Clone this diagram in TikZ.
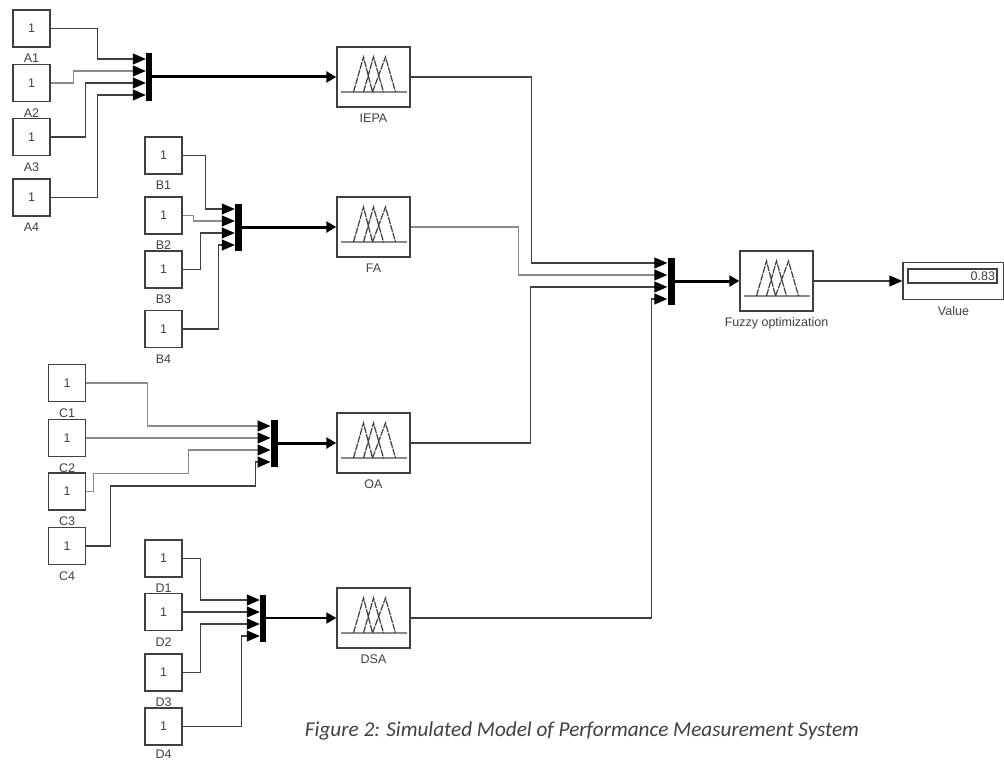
\documentclass[tikz,border=0pt]{standalone}
\usepackage{fontspec}
\setmainfont{Liberation Sans}
\newfontfamily\captionfont{Carlito}
\usetikzlibrary{positioning, arrows.meta}
\definecolor{linegray}{HTML}{404040}
\definecolor{softgray}{HTML}{8A8A8A}
\tikzset{
  srcblock/.style={draw=linegray, line width=1.4pt, minimum width=37pt, minimum height=37pt, inner sep=0pt, font=\fontsize{12.5}{12.5}\selectfont, text=linegray},
  blocklabel/.style={inner sep=0pt, below=6pt of #1, font=\fontsize{12.5}{12.5}\selectfont, text=linegray},
  muxbar/.style={fill=black, minimum width=6pt, minimum height=47pt, inner sep=0pt},
  fisblock/.style={draw=linegray, line width=1.4pt, minimum width=73pt, minimum height=60pt, inner sep=0pt,
    path picture={\begin{scope}[shift={(path picture bounding box.center)}]
      \draw[softgray, line width=2pt] (-33,15) -- (33,15);
      \draw[linegray, line width=1.2pt, dash pattern=on 7pt off 1pt] (-20,15) -- (-10,-20) -- (-1,15) (-10,15) -- (0,-20) -- (10,15) (-1,15) -- (12,-20) -- (22,15);
    \end{scope}}},
  sig/.style={draw=linegray, line width=1.3pt, -{Triangle[length=13pt, width=11pt, color=black]}},
  softsig/.style={sig, draw=softgray},
  bus/.style={draw=black, line width=3pt, -{Triangle[length=10pt, width=11pt]}},
}
\begin{document}
\begin{tikzpicture}[x=1pt, y=-1pt, every node/.style={align=center}]
\useasboundingbox (0,0) rectangle (1004,760);
% sources A
\node[srcblock] (a1) at (31.5,28.5) {1};
\node[srcblock] (a2) at (31.5,83) {1};
\node[srcblock] (a3) at (31.5,137) {1};
\node[srcblock] (a4) at (31.5,197.5) {1};
\node[blocklabel=a1] (a1 label) {A1};
\node[blocklabel=a2] (a2 label) {A2};
\node[blocklabel=a3] (a3 label) {A3};
\node[blocklabel=a4] (a4 label) {A4};
% sources B
\node[srcblock] (b1) at (163.5,155.5) {1};
\node[srcblock] (b2) at (163.5,215.5) {1};
\node[srcblock] (b3) at (163.5,269.5) {1};
\node[srcblock] (b4) at (163.5,329) {1};
\node[blocklabel=b1] (b1 label) {B1};
\node[blocklabel=b2] (b2 label) {B2};
\node[blocklabel=b3] (b3 label) {B3};
\node[blocklabel=b4] (b4 label) {B4};
% sources C
\node[srcblock] (c1) at (67,383) {1};
\node[srcblock] (c2) at (67,438) {1};
\node[srcblock] (c3) at (67,491.5) {1};
\node[srcblock] (c4) at (67,546) {1};
\node[blocklabel=c1] (c1 label) {C1};
\node[blocklabel=c2] (c2 label) {C2};
\node[blocklabel=c3] (c3 label) {C3};
\node[blocklabel=c4] (c4 label) {C4};
% sources D
\node[srcblock] (d1) at (163.5,558.5) {1};
\node[srcblock] (d2) at (163.5,612) {1};
\node[srcblock] (d3) at (163.5,672.5) {1};
\node[srcblock] (d4) at (163.5,726.5) {1};
\node[blocklabel=d1] (d1 label) {D1};
\node[blocklabel=d2] (d2 label) {D2};
\node[blocklabel=d3] (d3 label) {D3};
\node[blocklabel=d4, below=3.5pt of d4] (d4 label) {D4};
% mux bars with their input points
\node[muxbar] (muxa) at (149,77) {};
\node[muxbar, minimum width=7pt] (muxb) at (238.5,227) {};
\node[muxbar, minimum width=7.5pt] (muxc) at (274.5,443) {};
\node[muxbar] (muxd) at (263,618) {};
\node[muxbar, minimum width=7pt] (muxo) at (671,281) {};
\path (muxa.west) ++(0,-18) coordinate(muxa1) ++(0,12) coordinate(muxa2) ++(0,12) coordinate(muxa3) ++(0,12) coordinate(muxa4);
\path (muxb.west) ++(0,-18) coordinate(muxb1) ++(0,12) coordinate(muxb2) ++(0,12) coordinate(muxb3) ++(0,12) coordinate(muxb4);
\path (muxc.west) ++(0,-17) coordinate(muxc1) ++(0,12) coordinate(muxc2) ++(0,12) coordinate(muxc3) ++(0,12) coordinate(muxc4);
\path (muxd.west) ++(0,-18) coordinate(muxd1) ++(0,12) coordinate(muxd2) ++(0,12) coordinate(muxd3) ++(0,12) coordinate(muxd4);
\path (muxo.west) ++(0,-18) coordinate(muxo1) ++(0,12) coordinate(muxo2) ++(0,12) coordinate(muxo3) ++(0,12) coordinate(muxo4);
% fuzzy blocks
\node[fisblock] (iepa) at (373.5,77) {};
\node[fisblock] (fa) at (373.5,227) {};
\node[fisblock] (oa) at (373.5,443) {};
\node[fisblock] (dsa) at (373.5,618) {};
\node[fisblock] (fuzzy) at (776.5,281) {};
\node[blocklabel=iepa] (iepa label) {IEPA};
\node[blocklabel=fa] (fa label) {FA};
\node[blocklabel=oa] (oa label) {OA};
\node[blocklabel=dsa] (dsa label) {DSA};
\node[blocklabel=fuzzy] (fuzzy label) {Fuzzy optimization};
% display
\node[draw=linegray, line width=1.4pt, minimum width=101pt, minimum height=37pt, inner sep=0pt] (value) at (953.5,281) {};
\node[draw=linegray, line width=1.4pt, minimum width=89pt, minimum height=14pt, text width=85pt, inner sep=0pt, align=right, font=\fontsize{12.5}{12.5}\selectfont, text=linegray] (reading) at (952.5,276) {0.83};
\node[blocklabel=value] (value label) {Value};
% inputs
\draw[sig] (a1.east) -- ++(47,0) |- (muxa1);
\draw[softsig] (a2.east) -- ++(23,0) |- (muxa2);
\draw[sig] (a3.east) -- ++(35,0) |- (muxa3);
\draw[sig] (a4.east) -- ++(47,0) |- (muxa4);
\draw[sig] (b1.east) -- ++(23,0) |- (muxb1);
\draw[softsig] (b2.east) -- ++(11,0) |- (muxb2);
\draw[sig] (b3.east) -- ++(18,0) |- (muxb3);
\draw[sig] (b4.east) -- ++(36,0) |- (muxb4);
\draw[softsig] (c1.east) -- ++(61,0) |- (muxc1);
\draw[softsig] (c2.east) -- (muxc2);
\draw[softsig] (c3.east) -- ++(7,0) |- ++(95,-18) |- (muxc3);
\draw[sig] (c4.east) -- ++(24,0) |- ++(145,-60) |- (muxc4);
\draw[sig] (d1.east) -- ++(18,0) |- (muxd1);
\draw[sig] (d2.east) -- (muxd2);
\draw[sig] (d3.east) -- ++(18,0) |- (muxd3);
\draw[sig] (d4.east) -- ++(59,0) |- (muxd4);
% buses
\draw[bus] (muxa.east) -- (iepa.west);
\draw[bus] (muxb.east) -- (fa.west);
\draw[bus] (muxc.east) -- (oa.west);
\draw[bus, line width=2pt] (muxd.east) -- (dsa.west);
\draw[bus] (muxo.east) -- (fuzzy.west);
% outputs
\draw[sig] (iepa.east) -- ++(121,0) |- (muxo1);
\draw[softsig] (fa.east) -- ++(108,0) |- (muxo2);
\draw[sig] (oa.east) -- ++(120,0) |- (muxo3);
\draw[sig] (dsa.east) -- ++(241,0) |- (muxo4);
\draw[sig] (fuzzy.east) -- (value.west);
% caption
\node[font=\captionfont\itshape\fontsize{21.2}{21.2}\selectfont, text=linegray, inner sep=0pt] (caption) at (582,731) {Figure 2: Simulated Model of Performance Measurement System};
\end{tikzpicture}
\end{document}
